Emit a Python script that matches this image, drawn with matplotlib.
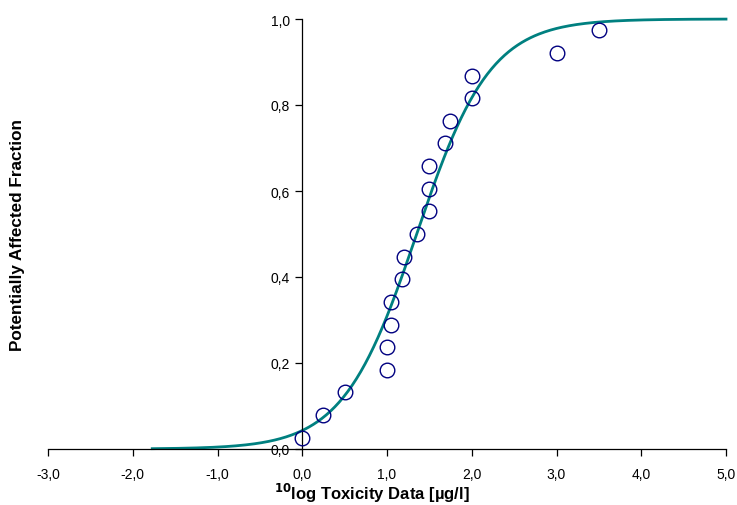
import numpy as np
import matplotlib
matplotlib.use("Agg")
import matplotlib.pyplot as plt
from matplotlib.ticker import FuncFormatter

# Observed toxicity data (10log µg/l) and their plotting fractions
tox_x = [0.0, 0.25, 0.5, 1.0, 1.0, 1.05, 1.05, 1.18, 1.2, 1.35, 1.5, 1.5, 1.5,
         1.68, 1.74, 2.0, 2.0, 3.0, 3.5]
paf_y = [0.026, 0.079, 0.132, 0.184, 0.237, 0.289, 0.342, 0.395, 0.447, 0.5,
         0.553, 0.605, 0.658, 0.711, 0.763, 0.816, 0.868, 0.921, 0.974]

# Fitted log-logistic SSD parameters
ssd_mean = 1.35
ssd_scale = 0.435
curve_start, curve_end = -1.77, 5.0

x_ticks = [-3, -2, -1, 0, 1, 2, 3, 4, 5]
y_ticks = [0.0, 0.2, 0.4, 0.6, 0.8, 1.0]

plt.rcParams['font.family'] = ['Liberation Sans', 'DejaVu Sans']

fig = plt.figure(figsize=(7.37, 5.06), dpi=100)
ax = fig.add_axes([48/737, 56/506, (726-48)/737, (450-20)/506])

xc = np.linspace(curve_start, curve_end, 400)
yc = 1.0 / (1.0 + np.exp(-(xc - ssd_mean) / ssd_scale))
ax.plot(xc, yc, color='#008080', lw=2.0, zorder=2, clip_on=False)
ax.plot(tox_x, paf_y, 'o', ms=10.5, mfc='none', mec='#000080', mew=1.0,
        zorder=3, clip_on=False)

ax.set_xlim(-3, 5)
ax.set_ylim(0, 1)
ax.spines['left'].set_position(('data', 0))
ax.spines['bottom'].set_position(('data', 0))
ax.spines['top'].set_visible(False)
ax.spines['right'].set_visible(False)
for s in ('left', 'bottom'):
    ax.spines[s].set_linewidth(0.9)

ax.set_xticks(x_ticks)
ax.set_yticks(y_ticks)
fmt = FuncFormatter(lambda v, p: f"{v:.1f}".replace('.', ','))
ax.xaxis.set_major_formatter(fmt)
ax.yaxis.set_major_formatter(fmt)
ax.tick_params(axis='x', direction='out', length=5, width=0.9, labelsize=10, pad=8)
ax.tick_params(axis='y', direction='out', length=5, width=0.9, labelsize=10, pad=4)

fig.text(372/737, 1 - 493/506, r'$\mathbf{^{10}}$log Toxicity Data [µg/l]',
         ha='center', va='center', fontsize=12, fontweight='bold')
fig.text(18/737, 1 - 235/506, 'Potentially Affected Fraction', rotation=90,
         ha='center', va='center', fontsize=12.3, fontweight='bold')

fig.savefig('out.png', dpi=100)
